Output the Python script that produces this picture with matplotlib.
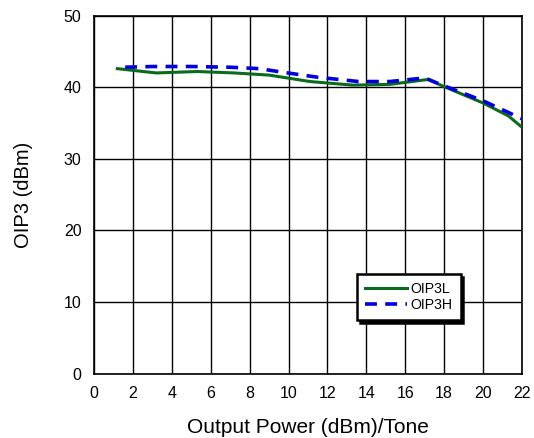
import matplotlib
matplotlib.use('Agg')
import matplotlib.pyplot as plt

plt.rcParams['font.family'] = ['Liberation Sans', 'DejaVu Sans']

# OIP3 vs output power
pout_l = [1.2, 3.2, 5.3, 7.2, 9.0, 11.1, 13.3, 15.2, 17.2, 17.9, 20.0, 21.3, 22.0]
oip3l = [42.6, 42.0, 42.2, 42.0, 41.7, 40.8, 40.3, 40.4, 41.1, 40.2, 37.8, 36.0, 34.4]

pout_h = [1.6, 3.0, 5.0, 7.0, 8.5, 9.7, 11.5, 13.6, 15.2, 17.0, 17.9, 20.0, 22.0]
oip3h = [42.8, 42.9, 42.9, 42.8, 42.6, 42.1, 41.4, 40.8, 40.8, 41.3, 40.3, 38.1, 35.6]

xticks = list(range(0, 23, 2))
yticks = list(range(0, 51, 10))

fig = plt.figure(figsize=(5.34, 4.38), dpi=100)
ax = fig.add_axes([94/534, 1 - 373.5/438, (522-94)/534, (373.5-15.7)/438])

ax.plot(pout_l, oip3l, color='#0b6b1c', lw=2.2, label='OIP3L', zorder=3)
ax.plot(pout_h, oip3h, color='#0000dd', lw=2.6, ls=(0, (3.3, 2.3)), label='OIP3H', zorder=4)

ax.set_xlim(0, 22)
ax.set_ylim(0, 50)
ax.set_xticks(xticks)
ax.set_yticks(yticks)
ax.grid(True, color='black', lw=1.0)
ax.tick_params(length=0, labelsize=11.5, pad=9, colors='black')
for s in ax.spines.values():
    s.set_linewidth(1.2)

ax.set_xlabel('Output Power (dBm)/Tone', fontsize=15, labelpad=12)
ax.set_ylabel('OIP3 (dBm)', fontsize=14.5, labelpad=22)

leg = ax.legend(loc='upper left', bbox_to_anchor=(0.6145, 0.278), fontsize=10.2,
                frameon=True, fancybox=False,
                shadow={'color': 'black', 'alpha': 1},
                handlelength=3.0, borderpad=0.55, labelspacing=0.18,
                handletextpad=0.25, borderaxespad=0)
leg.get_frame().set_edgecolor('black')
leg.get_frame().set_linewidth(1.8)
leg.get_frame().set_alpha(1)

fig.savefig('out.png', dpi=100)
